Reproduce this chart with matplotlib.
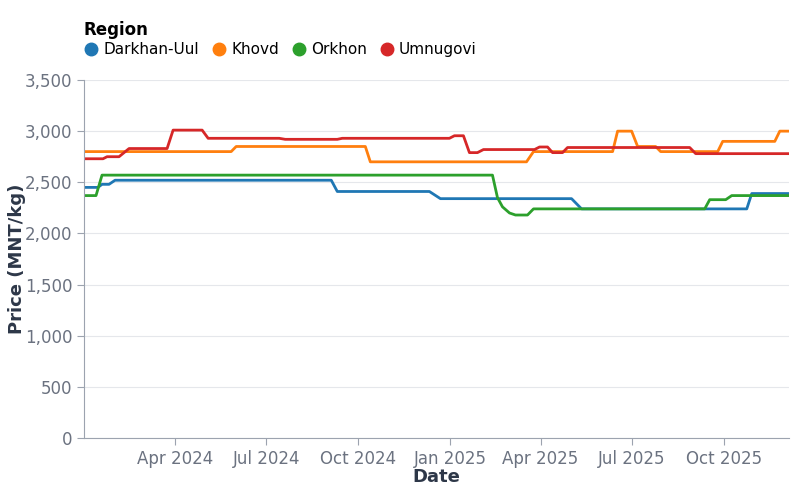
import pandas as pd
import matplotlib.pyplot as plt
import matplotlib.dates as mdates
from matplotlib.ticker import FuncFormatter
from matplotlib.lines import Line2D

# breakpoints of each regional price series (date, MNT/kg)
darkhan_dates = ["2024-01-01", "2024-01-15", "2024-01-19", "2024-01-26", "2024-02-01", "2024-09-04",
                 "2024-09-10", "2024-12-11", "2024-12-22", "2025-05-02", "2025-05-12", "2025-10-24",
                 "2025-10-29", "2025-12-05"]
darkhan_price = [2450, 2450, 2480, 2480, 2520, 2520, 2410, 2410, 2340, 2340, 2240, 2240, 2390, 2390]

khovd_dates = ["2024-01-01", "2024-05-27", "2024-06-01", "2024-10-08", "2024-10-13", "2025-03-18",
               "2025-03-25", "2025-06-12", "2025-06-17", "2025-07-01", "2025-07-07", "2025-07-25",
               "2025-07-30", "2025-09-25", "2025-09-30", "2025-11-21", "2025-11-26", "2025-12-05"]
khovd_price = [2800, 2800, 2850, 2850, 2700, 2700, 2800, 2800, 3000, 3000, 2850, 2850, 2800, 2800,
               2900, 2900, 3000, 3000]

orkhon_dates = ["2024-01-01", "2024-01-13", "2024-01-19", "2025-02-12", "2025-02-17", "2025-02-22",
                "2025-03-01", "2025-03-07", "2025-03-19", "2025-03-25", "2025-09-12", "2025-09-17",
                "2025-10-03", "2025-10-09", "2025-12-05"]
orkhon_price = [2370, 2370, 2570, 2570, 2350, 2260, 2200, 2180, 2180, 2240, 2240, 2330, 2330, 2370, 2370]

umnugovi_dates = ["2024-01-01", "2024-01-20", "2024-01-24", "2024-02-05", "2024-02-15", "2024-03-24",
                  "2024-03-30", "2024-04-28", "2024-05-04", "2024-07-14", "2024-07-20", "2024-09-10",
                  "2024-09-15", "2024-12-31", "2025-01-05", "2025-01-14", "2025-01-20", "2025-01-28",
                  "2025-02-03", "2025-03-26", "2025-03-31", "2025-04-08", "2025-04-13", "2025-04-23",
                  "2025-04-28", "2025-08-28", "2025-09-03", "2025-12-05"]
umnugovi_price = [2730, 2730, 2750, 2750, 2830, 2830, 3010, 3010, 2930, 2930, 2920, 2920, 2930, 2930,
                  2955, 2955, 2790, 2790, 2820, 2820, 2845, 2845, 2790, 2790, 2840, 2840, 2780, 2780]

regions = ["Darkhan-Uul", "Khovd", "Orkhon", "Umnugovi"]
series = [(darkhan_dates, darkhan_price), (khovd_dates, khovd_price),
          (orkhon_dates, orkhon_price), (umnugovi_dates, umnugovi_price)]
colors = ["#1f77b4", "#ff7f0e", "#2ca02c", "#d62728"]

tick_dates = ["2024-04-01", "2024-07-01", "2024-10-01", "2025-01-01", "2025-04-01", "2025-07-01", "2025-10-01"]

tick_col = "#6b7280"
title_col = "#2d3748"

fig = plt.figure(figsize=(8, 5), dpi=100)
ax = fig.add_axes([0.105, 0.124, 0.881, 0.716])

for (d, p), c in zip(series, colors):
    ax.plot(pd.to_datetime(d), p, color=c, linewidth=2.0, solid_joinstyle="round", solid_capstyle="round")

ax.set_xlim(pd.Timestamp("2024-01-01"), pd.Timestamp("2025-12-05"))
ax.set_ylim(0, 3500)
ax.set_yticks(range(0, 3501, 500))
ax.yaxis.set_major_formatter(FuncFormatter(lambda v, _: f"{int(v):,}"))
ax.set_xticks(pd.to_datetime(tick_dates))
ax.xaxis.set_major_formatter(mdates.DateFormatter("%b %Y"))

ax.grid(axis="y", color="#e5e7eb", linewidth=0.8)
ax.set_axisbelow(True)
for s in ["top", "right"]:
    ax.spines[s].set_visible(False)
for s in ["left", "bottom"]:
    ax.spines[s].set_color("#9ca3af")
    ax.spines[s].set_linewidth(0.8)
ax.tick_params(axis="both", colors="#9ca3af", labelcolor=tick_col, labelsize=12, length=5, width=0.8)

ax.set_xlabel("Date", fontsize=13, fontweight="bold", color=title_col, labelpad=0)
ax.set_ylabel("Price (MNT/kg)", fontsize=13, fontweight="bold", color=title_col, labelpad=-1)

handles = [Line2D([], [], marker="o", linestyle="", markersize=9, color=c) for c in colors]
leg = fig.legend(handles, regions, loc="upper left", bbox_to_anchor=(0.097, 0.97), ncol=4,
                 frameon=False, title="Region", alignment="left", fontsize=11,
                 title_fontproperties={"weight": "bold", "size": 12},
                 handletextpad=0.3, columnspacing=0.8, handlelength=1.0, borderaxespad=0,
                 labelspacing=0.2)

fig.savefig("out.png", dpi=100)
